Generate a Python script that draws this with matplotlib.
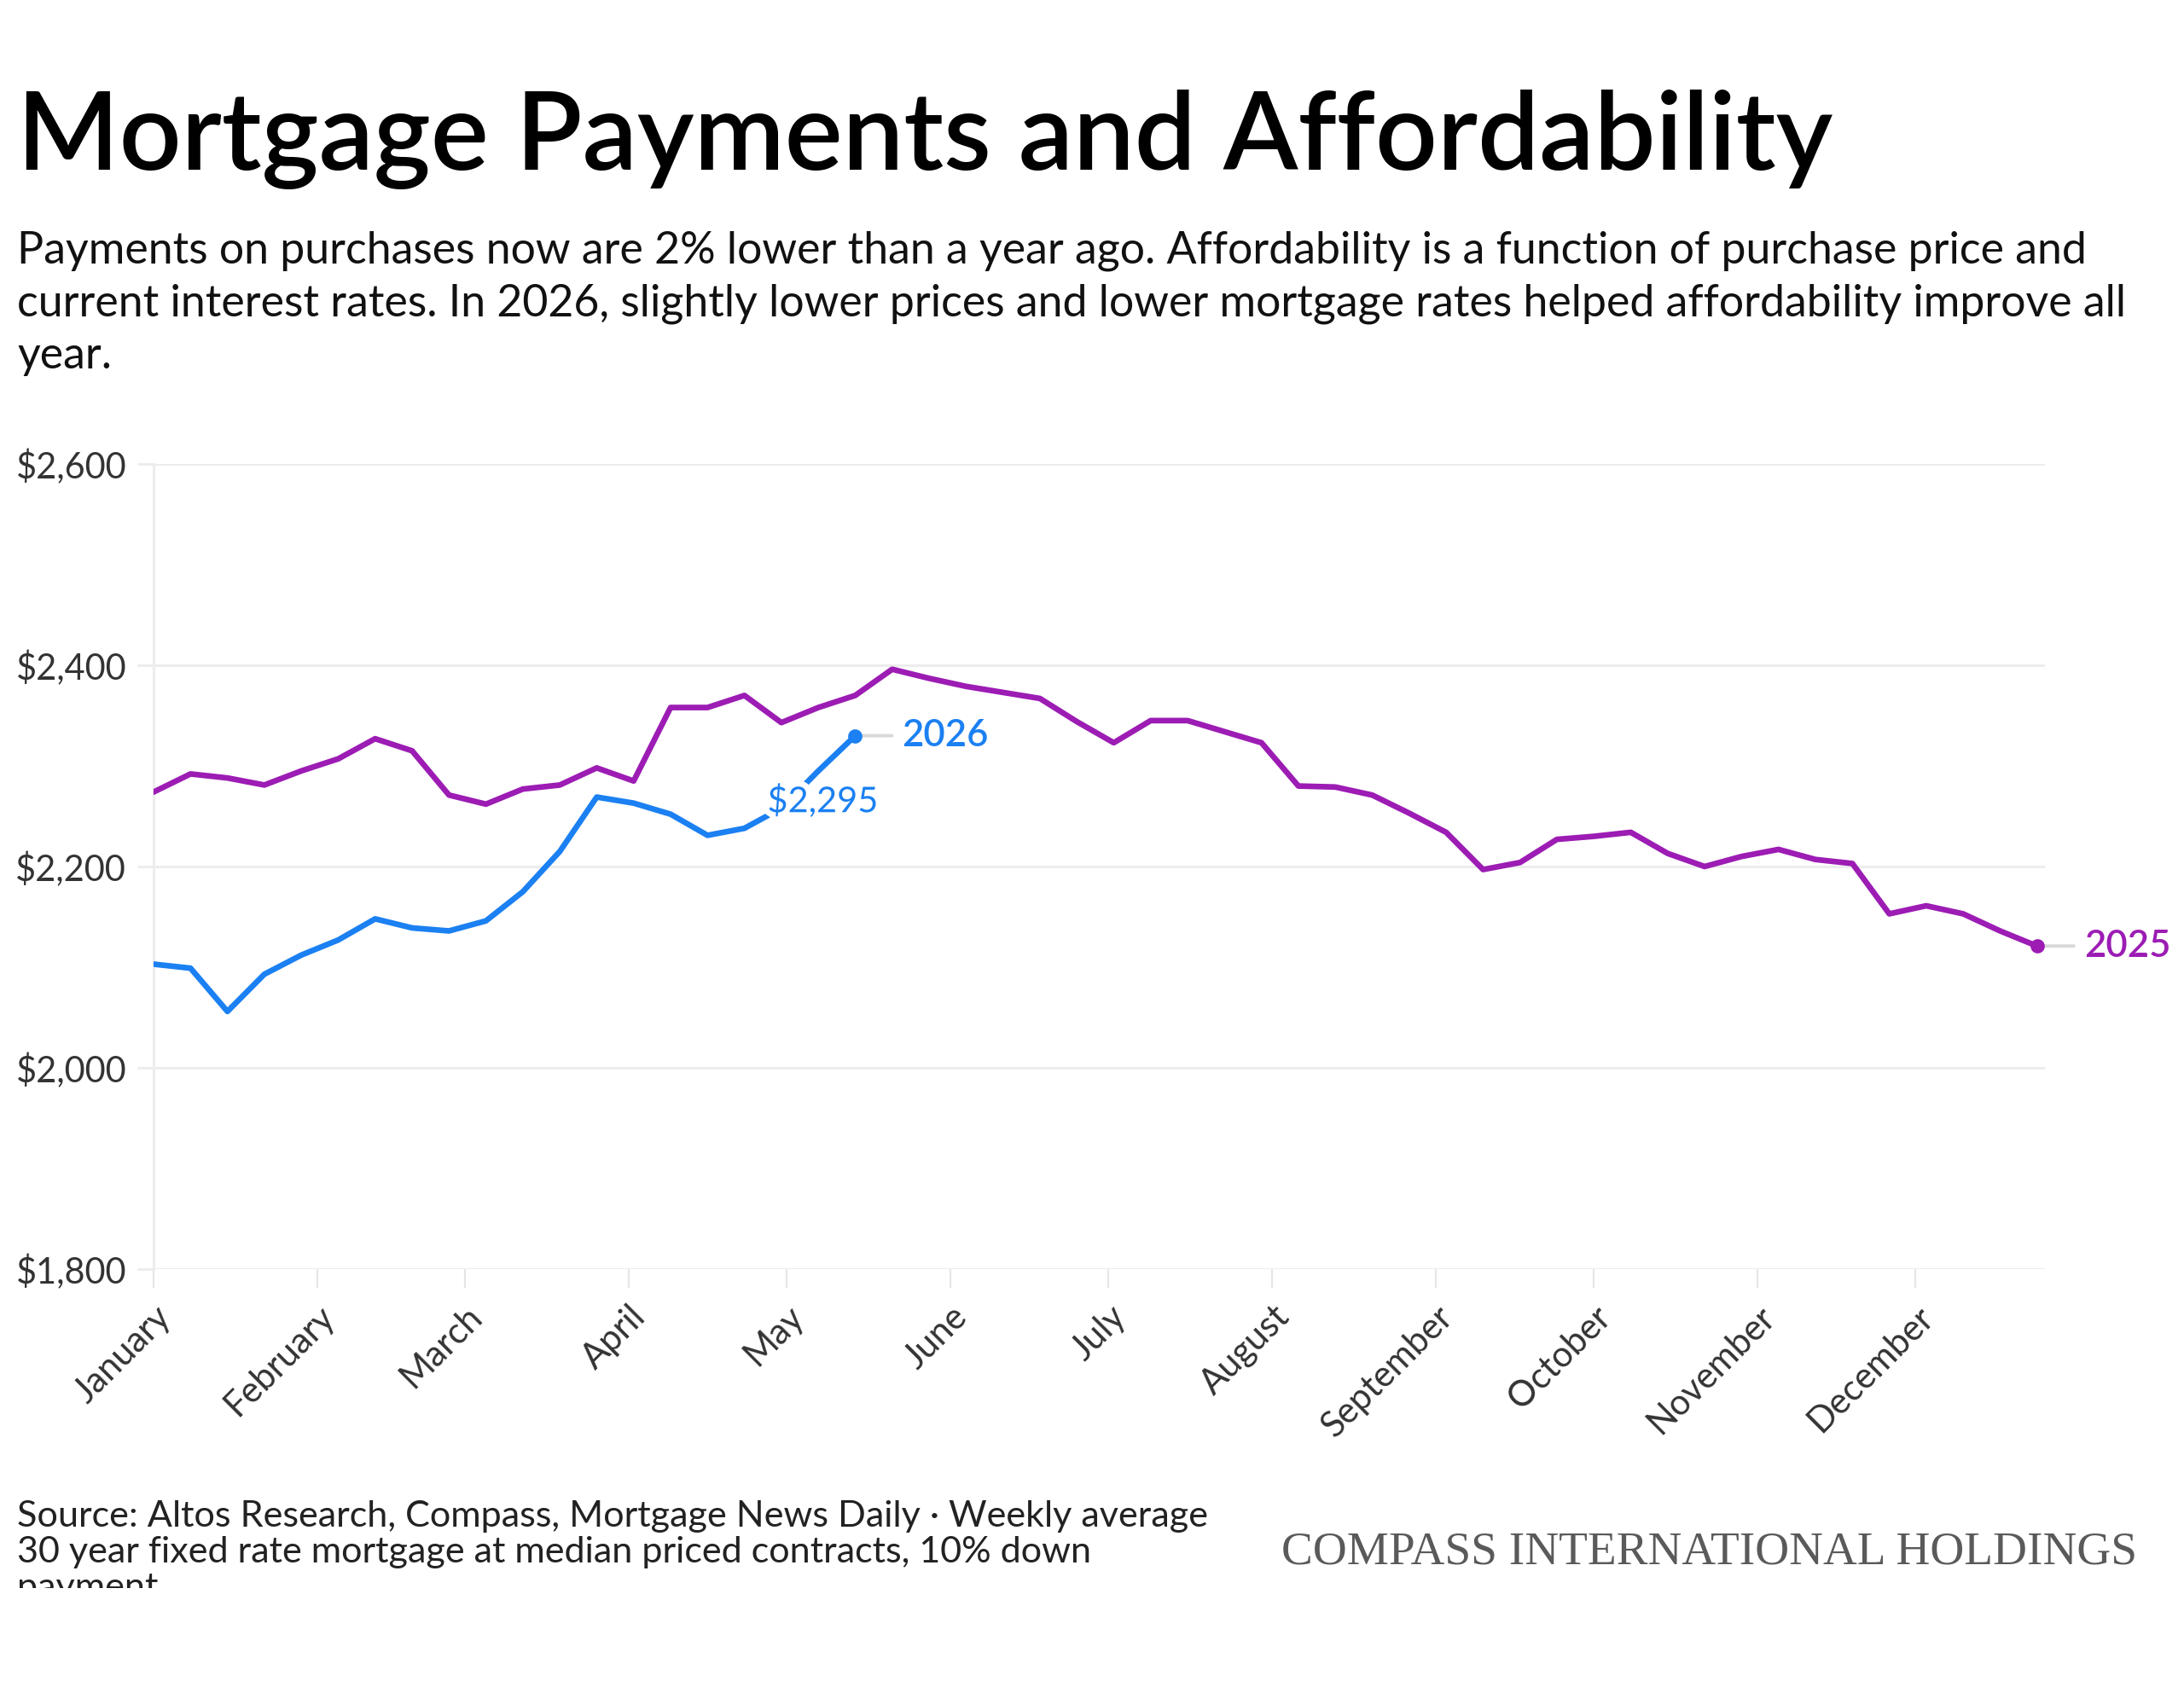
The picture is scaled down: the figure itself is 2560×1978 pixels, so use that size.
import numpy as np
import matplotlib
matplotlib.use("Agg")
import matplotlib.pyplot as plt
import matplotlib.patheffects as pe
from matplotlib.transforms import ScaledTranslation, Bbox, TransformedBbox

# weekly median payment, 30yr fixed, 10% down
payments_2025 = [2274, 2292, 2288, 2281, 2295, 2307, 2327, 2315, 2271, 2262,
                 2277, 2281, 2298, 2285, 2358, 2358, 2370, 2343, 2358, 2370,
                 2396, 2387, 2379, 2373, 2367, 2344, 2323, 2345, 2345, 2334,
                 2323, 2280, 2279, 2271, 2253, 2234, 2197, 2204, 2227, 2230,
                 2234, 2213, 2200, 2210, 2217, 2207, 2203, 2153, 2161, 2153,
                 2136, 2121]
payments_2026 = [2103, 2099, 2056, 2093, 2112, 2127, 2148, 2139, 2136, 2146,
                 2175, 2215, 2269, 2263, 2252, 2231, 2238, 2258, 2295, 2330]

months = ["January", "February", "March", "April", "May", "June", "July",
          "August", "September", "October", "November", "December"]
month_start_day = [0, 31, 59, 90, 120, 151, 181, 212, 243, 273, 304, 334]
y_ticks = [1800, 2000, 2200, 2400, 2600]
y_tick_labels = ["$1,800", "$2,000", "$2,200", "$2,400", "$2,600"]

title = "Mortgage Payments and Affordability"
subtitle = ["Payments on purchases now are 2% lower than a year ago. Affordability is a function of purchase price and",
            "current interest rates. In 2026, slightly lower prices and lower mortgage rates helped affordability improve all",
            "year."]
source = ["Source: Altos Research, Compass, Mortgage News Daily \u00b7 Weekly average",
          "30 year fixed rate mortgage at median priced contracts, 10% down",
          "payment"]
brand = "COMPASS INTERNATIONAL HOLDINGS"

PURPLE = "#9c1cb4"
BLUE = "#1b80f2"
GRID = "#ededed"

W, H = 2560, 1978
plt.rcParams["font.family"] = ["Lato", "DejaVu Sans"]
fig = plt.figure(figsize=(W / 200, H / 200), dpi=200)
renderer = fig.canvas.get_renderer()


def fx(px):
    return px / W


def fy(py):
    return 1 - py / H


def fit_width(t, target_px):
    w = t.get_window_extent(renderer).width
    t.set_fontsize(t.get_fontsize() * target_px / w)
    return t.get_fontsize()


ax = fig.add_axes([fx(180), fy(1488), fx(2397 - 180), (1488 - 544) / H])

days25 = np.arange(len(payments_2025)) * 7
days26 = np.arange(len(payments_2026)) * 7

ax.plot(days25, payments_2025, color=PURPLE, lw=2.4, solid_joinstyle="round",
        solid_capstyle="round", zorder=3)
ax.plot(days26, payments_2026, color=BLUE, lw=2.4, solid_joinstyle="round",
        solid_capstyle="round", zorder=3)

ax.set_xlim(0, 358.5)
ax.set_ylim(1800, 2600)
ax.set_yticks(y_ticks)
ax.set_yticklabels(y_tick_labels)
ax.set_xticks(month_start_day)
ax.set_xticklabels(months, rotation=45, ha="right", va="center",
                   rotation_mode="anchor")
ax.yaxis.grid(True, color=GRID, lw=1.1)
ax.set_axisbelow(True)
for s in ["top", "right", "bottom"]:
    ax.spines[s].set_visible(False)
ax.spines["left"].set_color(GRID)
ax.spines["left"].set_linewidth(1.1)
ax.tick_params(axis="y", length=7, width=1.1, color=GRID, pad=4.5,
               labelcolor="#333333", labelsize=14)
ax.tick_params(axis="x", length=8, width=0.8, color="#e6e6e6", pad=10,
               labelcolor="#333333", labelsize=14)

# size tick labels from the width of "$2,600"
fig.canvas.draw()
lab = ax.get_yticklabels()[-1]
fs = fit_width(lab, 130)
for t in ax.get_yticklabels() + ax.get_xticklabels():
    t.set_fontsize(fs)
shift = ScaledTranslation(14 / 200, 0, fig.dpi_scale_trans)
for t in ax.get_xticklabels():
    t.set_transform(t.get_transform() + shift)

# end markers and labels
for days, vals, col, name in [(days26, payments_2026, BLUE, "2026"),
                              (days25, payments_2025, PURPLE, "2025")]:
    ax.plot(days[-1], vals[-1], "o", ms=5, color=col, zorder=4, clip_on=False)
    ax.annotate("", xy=(days[-1], vals[-1]), xytext=(15.5, 0),
                textcoords="offset points",
                arrowprops=dict(arrowstyle="-", color="#d8d8d8", lw=1.4,
                                shrinkA=0, shrinkB=3), annotation_clip=False)
    ax.annotate(name, xy=(days[-1], vals[-1]), xytext=(19.8, 0),
                textcoords="offset points", ha="left", va="center",
                color=col, fontsize=fs * 1.05, fontweight="semibold",
                annotation_clip=False)

ax.annotate("$2,295", xy=(days26[18], payments_2026[18]), xytext=(-21.5, -12.5),
            textcoords="offset points", ha="left", va="center", color=BLUE,
            fontsize=fs, fontweight="normal", zorder=5,
            path_effects=[pe.withStroke(linewidth=5, foreground="white")])

# header
t = fig.text(fx(20), fy(199), title, fontsize=44, color="black", va="baseline",
             fontweight="semibold")
fit_width(t, 2132)

sub_y = [308, 370, 432]
t0 = fig.text(fx(20), fy(sub_y[0]), subtitle[0], fontsize=17, color="#111111",
              va="baseline")
sfs = fit_width(t0, 2438)
for line, y in zip(subtitle[1:], sub_y[1:]):
    fig.text(fx(20), fy(y), line, fontsize=sfs, color="#111111", va="baseline")

# footer
src_y = [1790, 1832, 1874]
s0 = fig.text(fx(20), fy(src_y[0]), source[0], fontsize=15, color="#222222",
              va="baseline")
srcfs = fit_width(s0, 1396)
clip = TransformedBbox(Bbox([[0, fy(1862)], [1, 1]]), fig.transFigure)
for line, y in zip(source[1:], src_y[1:]):
    st = fig.text(fx(20), fy(y), line, fontsize=srcfs, color="#222222",
                  va="baseline")
    st.set_clip_box(clip)
    st.set_clip_on(True)

b = fig.text(fx(1502), fy(1834), brand, fontsize=19, color="#5a5a5a",
             va="baseline", family=["Liberation Serif", "DejaVu Serif"])
fit_width(b, 1001)

fig.savefig("out.png", dpi=200, facecolor="white")
